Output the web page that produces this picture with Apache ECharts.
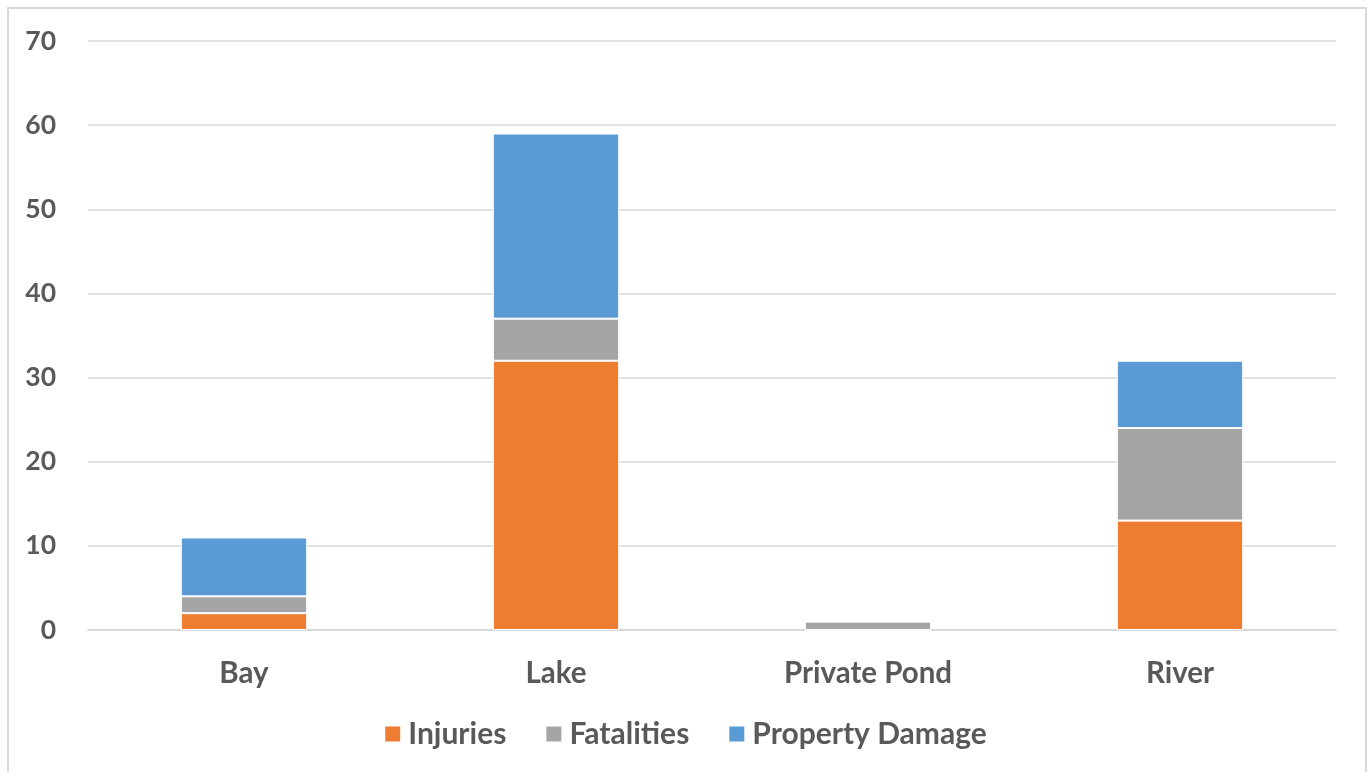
<!DOCTYPE html>
<html>
<head>
<meta charset="utf-8">
<script src="https://cdn.jsdelivr.net/npm/echarts@6/dist/echarts.min.js"></script>
<style>
  html, body { margin: 0; padding: 0; background: #fff; }
  #chart { width: 1370px; height: 772px; }
</style>
</head>
<body>
<div id="chart"></div>
<script>
const categories = ['Bay', 'Lake', 'Private Pond', 'River'];
const injuries = [2, 32, 0, 13];
const fatalities = [2, 5, 1, 11];
const propertyDamage = [7, 22, 0, 8];

const chart = echarts.init(document.getElementById('chart'));
const font = 'Lato, "Open Sans", sans-serif';
const textColor = '#595959';

function barSeries(name, data) {
  return {
    name: name,
    type: 'bar',
    stack: 'total',
    data: data,
    barWidth: '40.5%',
    itemStyle: { borderColor: '#fff', borderWidth: 1 },
    emphasis: { disabled: true }
  };
}

chart.setOption({
  animation: false,
  color: ['#ED7D31', '#A5A5A5', '#5B9BD5'],
  graphic: [{
    type: 'rect',
    shape: { x: 8, y: 8, width: 1358, height: 780 },
    style: { fill: 'none', stroke: '#d9d9d9', lineWidth: 2 },
    silent: true
  }],
  grid: { left: 88, right: 34, top: 41, bottom: 142 },
  legend: {
    bottom: 18,
    left: 'center',
    itemWidth: 17,
    itemHeight: 17,
    itemGap: 38,
    icon: 'rect',
    textStyle: { color: textColor, fontSize: 30, fontWeight: 'bold', fontFamily: font, padding: [0, 0, 0, 2] },
    data: ['Injuries', 'Fatalities', 'Property Damage']
  },
  xAxis: {
    type: 'category',
    data: categories,
    axisLine: { lineStyle: { color: '#d9d9d9', width: 2 } },
    axisTick: { show: false },
    axisLabel: { color: textColor, fontSize: 29.5, fontWeight: 'bold', fontFamily: font, margin: 28 }
  },
  yAxis: {
    type: 'value',
    min: 0,
    max: 70,
    interval: 10,
    axisLine: { show: false },
    axisTick: { show: false },
    splitLine: { lineStyle: { color: '#d9d9d9', width: 1.5 } },
    axisLabel: { color: textColor, fontSize: 26.5, fontWeight: 'bold', fontFamily: font, margin: 32 }
  },
  series: [
    barSeries('Injuries', injuries),
    barSeries('Fatalities', fatalities),
    barSeries('Property Damage', propertyDamage)
  ]
});
</script>
</body>
</html>
